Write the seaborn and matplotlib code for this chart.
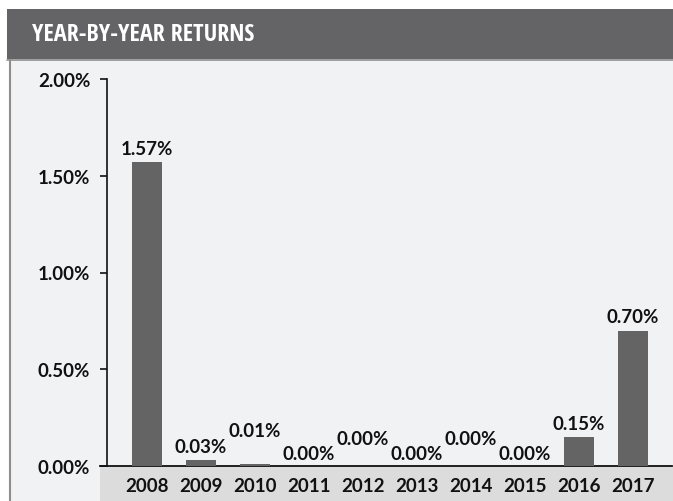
import matplotlib
matplotlib.use("Agg")
import matplotlib.pyplot as plt
import seaborn as sns
import pandas as pd
from matplotlib.patches import Rectangle
from matplotlib.lines import Line2D
from matplotlib.ticker import FixedLocator, FuncFormatter

# ---- data ----
years = ["2008", "2009", "2010", "2011", "2012", "2013", "2014", "2015", "2016", "2017"]
returns = [1.57, 0.03, 0.01, 0.00, 0.00, 0.00, 0.00, 0.00, 0.15, 0.70]
y_ticks = [0.0, 0.5, 1.0, 1.5, 2.0]
title = "YEAR-BY-YEAR RETURNS"

# label offsets (points) above bar tops (style only)
label_offsets = [6, 6, 20, 5, 16, 5, 16, 5, 6, 6]

sns.set_theme(style="white")
plt.rcParams["font.family"] = ["Lato", "DejaVu Sans"]
plt.rcParams["font.stretch"] = "normal"

W, H = 673, 502
fig = plt.figure(figsize=(W / 100, H / 100), dpi=100)
fig.patch.set_facecolor("white")

def fx(px):
    return px / W

def fy(py):
    return 1 - py / H

# panel background
fig.patches.append(Rectangle((fx(9), 0), 1 - fx(9), fy(61), transform=fig.transFigure,
                             facecolor="#f1f2f4", edgecolor="none", zorder=0))
# left border
fig.lines.append(Line2D([fx(9.5), fx(9.5)], [0, fy(61)], transform=fig.transFigure,
                        color="#8e8e8e", lw=1.5, zorder=1))
# header bar
fig.patches.append(Rectangle((fx(7), fy(60)), 1 - fx(7), 50 / H, transform=fig.transFigure,
                             facecolor="#646466", edgecolor="none", zorder=1))
fig.lines.append(Line2D([fx(7), 1], [fy(60.5), fy(60.5)], transform=fig.transFigure,
                        color="#8e8e8e", lw=1.2, zorder=2))
fig.text(fx(32), fy(35), title, color="white", fontsize=17.5, fontweight="semibold",
         family=["Open Sans Condensed", "Fira Sans Condensed", "DejaVu Sans"],
         fontstretch="condensed", va="center", ha="left", zorder=3)

# x label band
fig.patches.append(Rectangle((fx(100), 0), 1 - fx(100), fy(467), transform=fig.transFigure,
                             facecolor="#dcdcdc", edgecolor="none", zorder=0.5))

ax_left, ax_right = 100, 672
ax_top, ax_bot = 80, 467
ax = fig.add_axes([fx(ax_left), fy(ax_bot), (ax_right - ax_left) / W, (ax_bot - ax_top) / H])
ax.set_facecolor("none")
ax.set_zorder(5)

df = pd.DataFrame({"year": years, "ret": returns})
sns.barplot(data=df, x="year", y="ret", color="#646464", saturation=1, width=0.556,
            linewidth=0, edgecolor="none", ax=ax, zorder=2)

ax.set_xlim((ax_left - 147) / 54, (ax_right - 147) / 54)
ax.set_ylim(0, 2.0)
ax.set_xlabel("")
ax.set_ylabel("")

for s in ["top", "right"]:
    ax.spines[s].set_visible(False)
ax.spines["left"].set_position(("axes", 7 / (ax_right - ax_left)))
ax.spines["left"].set_color("#111111")
ax.spines["left"].set_linewidth(1.2)
ax.spines["bottom"].set_color("#111111")
ax.spines["bottom"].set_linewidth(1.3)
ax.spines["bottom"].set_zorder(1)

FS = 13.5
ax.yaxis.set_major_locator(FixedLocator(y_ticks))
ax.yaxis.set_major_formatter(FuncFormatter(lambda v, p: f"{v:.2f}%"))
ax.tick_params(axis="y", left=True, length=5, width=1.2, color="#111111", pad=7,
               labelsize=FS, labelcolor="#111111")
ax.tick_params(axis="x", bottom=False, length=0, pad=8, labelsize=FS, labelcolor="#111111")
for lab in ax.get_yticklabels() + ax.get_xticklabels():
    lab.set_fontweight("bold")

for i, (v, off) in enumerate(zip(returns, label_offsets)):
    ax.annotate(f"{v:.2f}%", xy=(i, v), xytext=(0, off), textcoords="offset points",
                ha="center", va="baseline", fontsize=FS, fontweight="bold", color="#111111",
                annotation_clip=False)

fig.savefig("out.png", dpi=100, facecolor=fig.get_facecolor())
